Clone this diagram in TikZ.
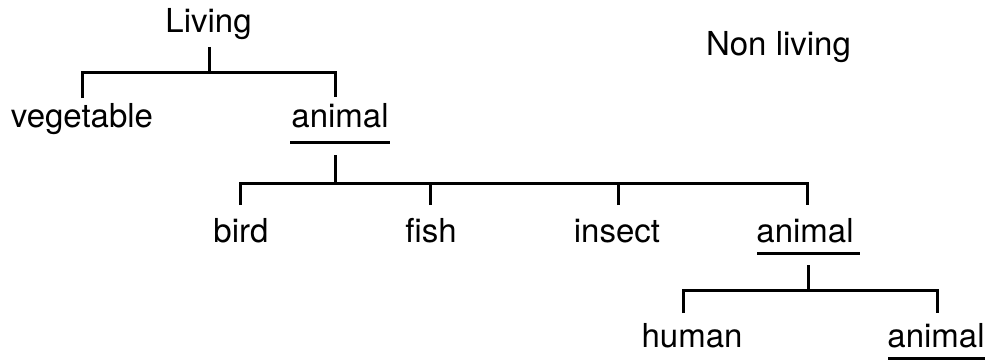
\documentclass[tikz,border=0pt]{standalone}
\usepackage{fontspec}
\setmainfont{TeX Gyre Heros}
\begin{document}
\begin{tikzpicture}[x=1pt,y=-1pt,
  word/.style={anchor=base,inner sep=0pt,font=\fontsize{33}{39}\selectfont},
  link/.style={line width=3pt,line cap=butt,line join=miter},
  uline/.style={line width=3pt}]
\useasboundingbox (0,0) rectangle (987,361);
% words
\node[word] (living) at (208.5,33) {Living};
\node[word] (nonliving) at (778.5,56) {Non living};
\node[word] (veg) at (82,127) {vegetable};
\node[word] (an1) at (340,127) {animal};
\node[word] (bird) at (241,242) {bird};
\node[word] (fish) at (431,242) {fish};
\node[word] (insect) at (617,242) {insect};
\node[word] (an2) at (805,242) {animal};
\node[word] (human) at (692,347) {human};
\node[word] (an3) at (936,347) {animal};
% junction coordinates
\coordinate (s1) at (209,47);
\coordinate (j1) at (209,72);
\coordinate (d11) at (82,98);
\coordinate (d12) at (335,97);
\coordinate (s2) at (335,155);
\coordinate (j2) at (335,183);
\coordinate (d21) at (240,205);
\coordinate (d22) at (430,205);
\coordinate (d23) at (618,205);
\coordinate (d24) at (807,205);
\coordinate (s3) at (808,265);
\coordinate (j3) at (808,290);
\coordinate (d31) at (683,313);
\coordinate (d32) at (937,313);
% brackets
\draw[link] (s1) -- (j1);
\draw[link] (d11) |- (j1) -| (d12);
\draw[link] (s2) -- (j2);
\draw[link] (d21) |- (j2) -| (d24);
\draw[link] (d22) -- (d22 |- j2);
\draw[link] (d23) -- (d23 |- j2);
\draw[link] (s3) -- (j3);
\draw[link] (d31) |- (j3) -| (d32);
% underlines
\draw[uline] (290,142) -- (390,142);
\draw[uline] (757,253) -- (860,253);
\draw[uline] (888,358) -- (985,358);
\end{tikzpicture}
\end{document}
